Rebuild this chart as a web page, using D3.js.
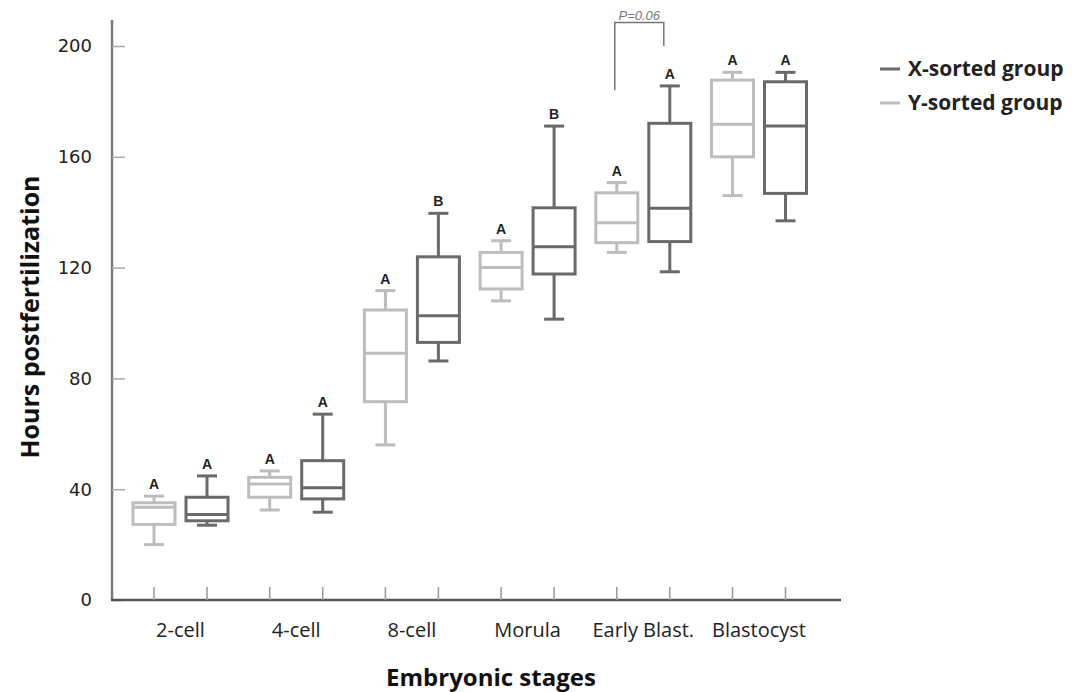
<!DOCTYPE html>
<html>
<head>
<meta charset="utf-8">
<script src="https://cdn.jsdelivr.net/npm/d3@7"></script>
<style>
html,body{margin:0;padding:0;background:#fff;}
svg{display:block;}
</style>
</head>
<body>
<svg id="chart" width="1075" height="692"></svg>
<script>
const categories = ["2-cell","4-cell","8-cell","Morula","Early Blast.","Blastocyst"];
const seriesNames = ["Y-sorted group","X-sorted group"];
const yTicks = [0,40,80,120,160,200];

// Y-sorted group
const ySortedMin = [20, 32.5, 56, 108, 125.5, 146];
const ySortedQ1  = [27.3, 37.1, 71.6, 112.3, 129, 160];
const ySortedMed = [33.5, 41.9, 89.1, 120, 136.2, 171.8];
const ySortedQ3  = [35.1, 44.3, 104.7, 125.5, 147, 187.7];
const ySortedMax = [37.5, 46.6, 111.7, 129.7, 150.7, 190.5];
const ySortedLetters = ["A","A","A","A","A","A"];

// X-sorted group
const xSortedMin = [27, 31.7, 86.3, 101.4, 118.5, 136.9];
const xSortedQ1  = [28.6, 36.5, 93, 117.7, 129.4, 146.8];
const xSortedMed = [30.9, 40.5, 102.6, 127.5, 141.4, 171.1];
const xSortedQ3  = [37.1, 50.3, 123.9, 141.6, 172.1, 187.1];
const xSortedMax = [44.8, 67.1, 139.6, 171.1, 185.6, 190.5];
const xSortedLetters = ["A","A","B","B","A","A"];

// significance bracket (Early Blast.)
const bracketCategory = "Early Blast.";
const bracketLabel = "P=0.06";
const bracketTop = 208.5;
const bracketLeftBottom = 184;
const bracketRightBottom = 200;

const colors = {"Y-sorted group":"#bdbdbd","X-sorted group":"#6a6a6a"};

const svg = d3.select("#chart");
const x = d3.scalePoint().domain(categories).range([180.5, 759]);
const off = d3.scalePoint().domain(seriesNames).range([-26.5, 26.5]);
const y = d3.scaleLinear().domain([0, 209.4]).range([600, 20]);

const boxW = 42, capW = 20;

function build(name, mn, q1, md, q3, mx, letters){
  return categories.map((c,i)=>({cat:c, series:name, min:mn[i], q1:q1[i], med:md[i], q3:q3[i], max:mx[i], letter:letters[i]}));
}
const data = build("Y-sorted group", ySortedMin, ySortedQ1, ySortedMed, ySortedQ3, ySortedMax, ySortedLetters)
  .concat(build("X-sorted group", xSortedMin, xSortedQ1, xSortedMed, xSortedQ3, xSortedMax, xSortedLetters));

// axes
const axisColor = "#7a7a7a";
const yAxis = svg.append("g").attr("transform","translate(112,0)")
  .call(d3.axisRight(y).tickValues(yTicks).tickSize(13).tickFormat(""));
yAxis.select(".domain").attr("stroke",axisColor).attr("stroke-width",2.5).attr("d","M0,20V600");
yAxis.selectAll(".tick line").attr("stroke","#aaa").attr("stroke-width",1.5);
svg.append("g").selectAll("text").data(yTicks).join("text")
  .attr("x",92).attr("y",d=>y(d)).attr("dy","0.35em").attr("text-anchor","end")
  .attr("font-family","DejaVu Sans, sans-serif").attr("font-size",18).attr("fill","#222")
  .text(d=>d);

const xAxisG = svg.append("g");
xAxisG.append("line").attr("x1",111).attr("x2",841).attr("y1",y(0)).attr("y2",y(0))
  .attr("stroke","#555").attr("stroke-width",2.5);
xAxisG.selectAll("line.tk").data(data).join("line").attr("class","tk")
  .attr("x1",d=>x(d.cat)+off(d.series)).attr("x2",d=>x(d.cat)+off(d.series))
  .attr("y1",y(0)).attr("y2",y(0)-13).attr("stroke","#999").attr("stroke-width",1.5);
xAxisG.selectAll("text").data(categories).join("text")
  .attr("x",d=>x(d)).attr("y",637).attr("text-anchor","middle")
  .attr("font-family","Open Sans, sans-serif").attr("font-size",20).attr("fill","#222")
  .text(d=>d);

// boxes
const g = svg.append("g");
const boxes = g.selectAll("g.box").data(data).join("g").attr("class","box")
  .attr("transform",d=>`translate(${x(d.cat)+off(d.series)},0)`)
  .attr("stroke",d=>colors[d.series]).attr("stroke-width",3).attr("fill","none");
boxes.append("line").attr("x1",0).attr("x2",0).attr("y1",d=>y(d.max)).attr("y2",d=>y(d.q3));
boxes.append("line").attr("x1",0).attr("x2",0).attr("y1",d=>y(d.q1)).attr("y2",d=>y(d.min));
boxes.append("line").attr("x1",-capW/2).attr("x2",capW/2).attr("y1",d=>y(d.max)).attr("y2",d=>y(d.max));
boxes.append("line").attr("x1",-capW/2).attr("x2",capW/2).attr("y1",d=>y(d.min)).attr("y2",d=>y(d.min));
boxes.append("rect").attr("x",-boxW/2).attr("width",boxW)
  .attr("y",d=>y(d.q3)).attr("height",d=>y(d.q1)-y(d.q3)).attr("fill","#fff");
boxes.append("line").attr("x1",-boxW/2).attr("x2",boxW/2).attr("y1",d=>y(d.med)).attr("y2",d=>y(d.med));
g.selectAll("text.letter").data(data).join("text").attr("class","letter")
  .attr("x",d=>x(d.cat)+off(d.series)).attr("y",d=>y(d.max)-7)
  .attr("text-anchor","middle").attr("font-family","Liberation Sans, Arial, sans-serif")
  .attr("font-weight","bold").attr("font-size",14).attr("fill","#222")
  .text(d=>d.letter);

// bracket
const bl = x(bracketCategory)+off("Y-sorted group")-2;
const br = x(bracketCategory)+off("X-sorted group")-6;
svg.append("path")
  .attr("d",`M${bl},${y(bracketLeftBottom)}V${y(bracketTop)}H${br}V${y(bracketRightBottom)}`)
  .attr("fill","none").attr("stroke","#777").attr("stroke-width",1.5);
svg.append("text").attr("x",(bl+br)/2).attr("y",y(bracketTop)-2).attr("text-anchor","middle")
  .attr("font-family","Liberation Sans, Arial, sans-serif").attr("font-style","italic")
  .attr("font-size",13).attr("fill","#777").text(bracketLabel);

// axis titles
svg.append("text").attr("transform","translate(30,317) rotate(-90)").attr("text-anchor","middle")
  .attr("dy","0.35em").attr("font-family","Open Sans, sans-serif").attr("font-weight","bold")
  .attr("font-size",25).attr("fill","#111").text("Hours postfertilization");
svg.append("text").attr("x",491).attr("y",686).attr("text-anchor","middle")
  .attr("font-family","Open Sans, sans-serif").attr("font-weight","bold")
  .attr("font-size",24).attr("fill","#111").text("Embryonic stages");

// legend
const legendOrder = ["X-sorted group","Y-sorted group"];
const lg = svg.append("g").selectAll("g").data(legendOrder).join("g")
  .attr("transform",(d,i)=>`translate(880,${69+i*34})`);
lg.append("line").attr("x1",0).attr("x2",20).attr("y1",0).attr("y2",0)
  .attr("stroke",d=>colors[d]).attr("stroke-width",3);
lg.append("text").attr("x",28).attr("dy","0.35em")
  .attr("font-family","Open Sans, sans-serif").attr("font-weight","bold")
  .attr("font-size",21).attr("fill","#222").text(d=>d);
</script>
</body>
</html>
